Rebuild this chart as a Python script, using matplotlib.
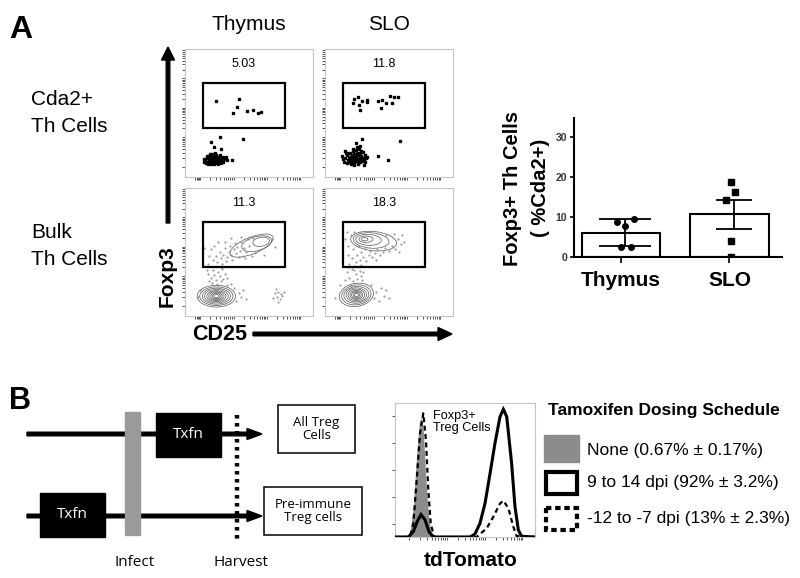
import numpy as np
import matplotlib
matplotlib.use("Agg")
import matplotlib.pyplot as plt
from matplotlib.patches import Rectangle, Ellipse, FancyArrow

plt.rcParams["font.family"] = "Liberation Sans"

# ------------------------------------------------------------
# DATA
# ------------------------------------------------------------

# flow plots (axis units 0-100, log-like display)
gate_pct = ["5.03", "11.8", "11.3", "18.3"]

tl_gated = [(24, 59.6), (42.4, 61), (40.4, 54.4), (37.2, 50), (48.7, 51.8),
            (53.4, 52.6), (57.3, 49.7), (59.4, 50.8)]
tl_outliers = [(27.3, 31), (20.3, 27.6), (22.9, 23.7), (19.5, 18), (28.1, 21.9),
               (45.6, 29.7), (37, 13.3)]
tl_cluster = [(15, 14), (16, 13), (17, 15), (17.5, 12), (18, 16), (18.5, 13.5),
              (19, 11.5), (19, 15), (19.5, 14), (20, 12.5), (20, 16.5), (20.5, 14.5),
              (21, 11), (21, 13), (21.5, 15.5), (22, 12), (22, 17), (22.5, 14),
              (23, 11.5), (23, 15), (23.5, 13), (24, 16), (24, 12.5), (24.5, 14.5),
              (25, 11), (25, 15.5), (25.5, 13.5), (26, 12), (26, 16), (26.5, 14),
              (27, 13), (27.5, 15), (28, 12.5), (28.5, 14.5), (29, 13.5), (29.5, 16),
              (30, 15), (31, 14), (32, 15.5), (16.5, 11), (18, 10.5), (19.5, 17.5),
              (21, 18), (22.5, 10), (24, 17.5), (25.5, 10.5), (27, 17), (28.5, 11),
              (30, 12), (17, 16.5), (20, 13), (23, 12), (26, 13), (29, 12.5),
              (21.5, 13.5), (24.5, 14), (27.5, 13), (19, 15), (22, 16.5), (25, 15),
              (14.5, 12), (32.5, 13), (23.5, 18.5), (20.5, 10.5)]

tr_gated = [(22.7, 60.9), (26, 62.8), (22.1, 57.8), (26.8, 56.3), (29.2, 59.1),
            (33.1, 60.2), (33.1, 58.3), (27.6, 52.3), (41.1, 59.1), (44.3, 60.2),
            (43.5, 54.2), (47.4, 57.8), (50.8, 63), (52.6, 57.6), (54.2, 62.2),
            (56.8, 62.2)]
tr_outliers = [(58.6, 28.4), (29.2, 29.7), (24, 26.6), (41.7, 16.1), (49.5, 13.5),
               (30.7, 9.4), (15.6, 20.6)]
tr_cluster = [(14, 14), (15, 12), (16, 15), (17, 11), (17.5, 17), (18, 13.5),
              (19, 16), (19, 11.5), (19.5, 19), (20, 14), (20.5, 12), (21, 17.5),
              (21, 15), (21.5, 10.5), (22, 13), (22, 20), (22.5, 16), (23, 11.5),
              (23, 18), (23.5, 14.5), (24, 21), (24, 12.5), (24.5, 16.5), (25, 19),
              (25, 14), (25.5, 11), (26, 17), (26, 13), (26.5, 22), (27, 15.5),
              (27, 12), (27.5, 18.5), (28, 14), (28.5, 16.5), (29, 12.5), (29.5, 19.5),
              (30, 15), (30.5, 13.5), (31, 17), (32, 14.5), (33, 16), (18, 18.5),
              (20, 10), (23, 9.5), (26, 10), (28, 20.5), (16.5, 19), (25, 23.5),
              (21.5, 22), (27, 24), (31.5, 12), (13.5, 16.5), (24, 15), (22, 14.5)]

bl_dots = [(22, 44), (24, 47), (25, 42), (27, 50), (28, 45), (30, 48), (31, 53), (33, 46),
           (34, 50), (35, 55), (36, 48), (38, 52), (39, 57), (40, 49), (41, 54), (43, 51),
           (44, 58), (45, 47), (46, 53), (48, 50), (49, 60), (50, 55), (20, 52), (23, 55),
           (26, 58), (29, 41), (32, 43), (37, 44), (42, 46), (52, 47), (55, 49), (62, 48),
           (68, 60), (70, 54), (25, 39), (28, 38), (19, 47), (31, 58), (36, 61), (44, 62),
           (15, 53), (18, 41), (47, 45), (53, 61), (18, 33), (20, 30), (22, 36), (24, 28),
           (26, 34), (27, 31), (29, 37), (21, 26), (25, 25), (30, 29), (23, 32), (19, 27),
           (28, 27), (31, 33), (33, 30), (17, 36), (70, 18), (72, 15), (73, 19), (74, 13),
           (75, 17), (71, 21), (76, 16), (73, 11), (69, 14), (77, 19), (40, 12), (42, 18),
           (44, 15), (38, 22), (36, 25), (45, 20), (48, 13), (10, 15), (12, 20), (33, 24)]
br_dots = [(16, 60), (18, 55), (18, 48), (20, 63), (21, 45), (22, 52), (23, 66), (24, 42),
           (25, 48), (26, 55), (27, 44), (28, 50), (30, 46), (31, 52), (32, 43), (34, 48),
           (35, 51), (37, 46), (39, 49), (41, 52), (43, 48), (45, 50), (47, 53), (50, 51),
           (52, 55), (55, 52), (57, 60), (59, 56), (60, 63), (62, 58), (54, 64), (48, 63),
           (17, 66), (19, 41), (28, 40), (23, 39), (58, 50), (40, 44), (17, 34), (19, 30),
           (21, 37), (22, 27), (24, 33), (25, 29), (26, 38), (27, 35), (28, 31), (20, 24),
           (23, 36), (29, 28), (18, 38), (30, 34), (16, 28), (38, 14), (40, 19), (42, 12),
           (44, 22), (46, 16), (48, 20), (36, 24), (50, 14), (8, 14), (12, 24)]

# contour rings: (cx, cy, w, h, angle)
bl_rings = [(24.5, 15.5, 30, 17, 0), (24.5, 15.5, 26, 14.5, 0), (24.5, 15.5, 22, 12.5, 0),
            (24.5, 15.5, 18.5, 10.5, 0), (24.5, 15.5, 15, 8.5, 0), (24.5, 15.5, 12, 7, 0),
            (24.5, 15.5, 9, 5.5, 0), (24.5, 15.5, 6.5, 4, 0), (24.5, 15.5, 4, 2.5, 0),
            (52, 55, 36, 13, 22), (56, 56.5, 24, 11, 15), (59.5, 58, 13, 7, 10)]
br_rings = [(24.5, 16.5, 27, 18, 10), (24.5, 16.5, 23, 15.5, 8), (24.5, 16.5, 19.5, 13, 5),
            (24.5, 16.5, 16, 11, 0), (24.5, 16.5, 13, 9, 0), (24.5, 16.5, 10, 7, 0),
            (24.5, 16.5, 7.5, 5.5, 0), (24.5, 16.5, 5, 4, 0), (24.5, 16.5, 3, 2.5, 0),
            (38, 58.5, 36, 15, -6), (36, 59, 28, 12, -5), (34, 59.5, 20, 8.5, -3),
            (32, 60, 11, 5, 0), (31, 60, 5, 2.5, 0)]

# bar chart
groups = ["Thymus", "SLO"]
bar_means = [6.1, 10.7]
bar_err = [3.3, 3.6]
thymus_pts = [8.7, 9.4, 7.8, 2.6, 2.6]
thymus_jit = [-0.08, 0.08, 0.0, -0.04, 0.05]
slo_pts = [18.8, 16.25, 14.3, 4.1, 0.1]
slo_jit = [0.0, 0.04, -0.04, 0.0, 0.0]

# tdTomato histograms (x: 0-100 display, y: % of max)
none_x = [0, 8.3, 10.7, 13.1, 15.5, 17.4, 18.6, 20.2, 22.1, 23.8, 25.5, 27.4, 100]
none_y = [0, 0, 2.7, 22.6, 62.4, 86, 89, 80, 42.5, 17.7, 4, 0, 0]
late_x = [0, 9.5, 13.1, 15.95, 18.6, 21.4, 24.3, 27.4, 53.6, 57.1, 60.7, 64.3, 67.9,
          71.4, 75, 77.4, 79.8, 83.3, 85.7, 88.1, 90.5, 100]
late_y = [0, 0, 4, 11.7, 16.7, 12.9, 4, 0, 0, 2.2, 10.2, 25.1, 47.5, 69.9, 89.8, 95.3,
          89.8, 55, 22.6, 5.2, 0.5, 0]
early_x = [0, 10.7, 13.1, 15.5, 17.9, 20.2, 22.1, 23.8, 25.5, 27.9, 58.3, 65.5, 70.2,
           75, 77.4, 81, 84.5, 86.9, 100]
early_y = [0, 0, 10.2, 42.5, 77.4, 92.3, 72.4, 35, 10.2, 0, 0, 6.5, 15, 25, 27.1, 21.4,
           7.7, 0.7, 0]

legend_labels = ["None (0.67% \u00b1 0.17%)", "9 to 14 dpi (92% \u00b1 3.2%)",
                 "-12 to -7 dpi (13% \u00b1 2.3%)"]

# ------------------------------------------------------------
# FIGURE
# ------------------------------------------------------------

W, H = 800, 578
fig = plt.figure(figsize=(8, 5.78), dpi=100)


def add_ax(l, t, r, b):
    return fig.add_axes([l / W, 1 - b / H, (r - l) / W, (b - t) / H])


def log_ticks(starts, width):
    return [s + width * np.log10(k) for s in starts for k in range(1, 10)]


GRAY_FRAME = "#c4c4c4"


def flow_panel(box, pct):
    ax = add_ax(*box)
    ax.set_xlim(0, 100)
    ax.set_ylim(0, 100)
    for s in ax.spines.values():
        s.set_color(GRAY_FRAME)
        s.set_linewidth(0.8)
    ax.set_xticks(log_ticks([12, 38, 64], 26) + [8, 9, 10, 11, 90])
    ax.set_yticks(log_ticks([8, 31, 54, 77], 23))
    ax.set_xticklabels([])
    ax.set_yticklabels([])
    ax.tick_params(length=2, width=0.6, color="#333333", direction="out")
    ax.add_patch(Rectangle((13.8, 38.3), 64.2, 35.1, fill=False, lw=1.6,
                           ec="black", zorder=4))
    ax.text(46, 88, pct, ha="center", va="center", fontsize=9)
    return ax


def pts(ax, data, **kw):
    a = np.array(data)
    ax.plot(a[:, 0], a[:, 1], ls="none", **kw)


ax_tl = flow_panel((185, 49, 313, 177), gate_pct[0])
pts(ax_tl, tl_gated, marker="s", ms=1.6, color="black")
pts(ax_tl, tl_outliers, marker="s", ms=1.6, color="black")
pts(ax_tl, tl_cluster, marker="s", ms=1.7, color="black")

ax_tr = flow_panel((325, 49, 453, 177), gate_pct[1])
pts(ax_tr, tr_gated, marker="s", ms=1.6, color="black")
pts(ax_tr, tr_outliers, marker="s", ms=1.6, color="black")
pts(ax_tr, tr_cluster, marker="s", ms=1.7, color="black")

for box, pct, dots, rings in [((185, 188, 313, 316), gate_pct[2], bl_dots, bl_rings),
                              ((325, 188, 453, 316), gate_pct[3], br_dots, br_rings)]:
    ax = flow_panel(box, pct)
    pts(ax, dots, marker=".", ms=1.0, color="#8a8a8a")
    for cx, cy, w, h, ang in rings:
        ax.add_patch(Ellipse((cx, cy), w, h, angle=ang, fill=False, lw=0.5,
                             ec="#555555"))

# ------------------------------------------------------------
# BAR CHART
# ------------------------------------------------------------

axb = add_ax(574, 118, 782, 257)
xpos = np.arange(len(groups))
axb.bar(xpos, bar_means, width=0.72, color="white", edgecolor="black", lw=1.5,
        zorder=2)
for i, cap in zip(xpos, [19, 13]):
    axb.errorbar(i + 0.04, bar_means[i], yerr=bar_err[i], color="black", lw=1.3,
                 capsize=cap, capthick=1.3, zorder=4)
axb.plot(xpos[0] + 0.04 + np.array(thymus_jit), thymus_pts, "o", color="black",
         ms=4, zorder=5)
axb.plot(xpos[1] + 0.01 + np.array(slo_jit), slo_pts, "s", color="black",
         ms=4, zorder=5)
axb.set_xlim(-0.433, 1.484)
axb.set_ylim(0, 34.8)
axb.set_yticks([0, 10, 20, 30])
axb.set_yticklabels(["0", "10", "20", "30"], fontsize=7.5, fontweight="bold",
                    color="#333333")
axb.set_xticks(xpos)
axb.set_xticklabels(groups, fontsize=15, fontweight="bold")
axb.tick_params(axis="y", length=3, width=1.2, pad=2)
axb.tick_params(axis="x", length=4, width=1.2, pad=6)
for s in ["top", "right"]:
    axb.spines[s].set_visible(False)
for s in ["left", "bottom"]:
    axb.spines[s].set_linewidth(1.5)

# ------------------------------------------------------------
# HISTOGRAM
# ------------------------------------------------------------

axh = add_ax(395, 403, 535, 537)
axh.fill_between(none_x, none_y, color="#8c8c8c", lw=0, zorder=1)
axh.plot(late_x, late_y, color="black", lw=2.2, zorder=3, solid_joinstyle="miter")
axh.plot(early_x, early_y, color="black", lw=1.6, ls=(0, (2.2, 1.6)), zorder=3)
axh.set_xlim(0, 100)
axh.set_ylim(0, 100)
for s in axh.spines.values():
    s.set_color(GRAY_FRAME)
    s.set_linewidth(0.8)
axh.set_xticks(log_ticks([10, 37, 64], 27) + [91])
axh.set_yticks([10, 30, 50, 70, 90])
axh.set_xticklabels([])
axh.set_yticklabels([])
axh.tick_params(length=2, width=0.6, color="#333333", direction="out")
axh.text(27, 95, "Foxp3+\nTreg Cells", ha="left", va="top", fontsize=9.2,
         linespacing=1.05)

# ------------------------------------------------------------
# OVERLAY: labels, arrows, schematic, legend
# ------------------------------------------------------------

ov = fig.add_axes([0, 0, 1, 1], zorder=5)
ov.set_xlim(0, W)
ov.set_ylim(H, 0)
ov.axis("off")

ov.text(9, 38, "A", fontsize=23, fontweight="bold", va="baseline")
ov.text(9, 409, "B", fontsize=22, fontweight="bold", va="baseline")

ov.text(249, 30, "Thymus", fontsize=15, ha="center", va="baseline")
ov.text(389, 30, "SLO", fontsize=15, ha="center", va="baseline")
ov.text(31, 105, "Cda2+", fontsize=15, va="baseline")
ov.text(31, 132, "Th Cells", fontsize=15, va="baseline")
ov.text(31, 238, "Bulk", fontsize=15, va="baseline")
ov.text(31, 265, "Th Cells", fontsize=15, va="baseline")

ov.text(167, 276, "Foxp3", fontsize=15, fontweight="bold", rotation=90,
        ha="center", va="center")
ov.add_patch(FancyArrow(168, 223, 0, -176, width=3.6, head_width=13,
                        head_length=13, length_includes_head=True, color="black"))
ov.text(220, 335, "CD25", fontsize=15.5, fontweight="bold", ha="center",
        va="center")
ov.add_patch(FancyArrow(253, 334, 199, 0, width=3.6, head_width=13,
                        head_length=14, length_includes_head=True, color="black"))

ov.text(513, 188, "Foxp3+ Th Cells", fontsize=14.5, fontweight="bold",
        rotation=90, ha="center", va="center")
ov.text(540, 188, "( %Cda2+)", fontsize=14.5, fontweight="bold",
        rotation=90, ha="center", va="center")

# dosing schematic
SFONT = "Open Sans"
for y in [434, 516]:
    ov.add_patch(FancyArrow(27, y, 235, 0, width=3.6, head_width=11,
                            head_length=15, length_includes_head=True,
                            color="black", zorder=1))
ov.add_patch(Rectangle((125, 412), 15, 123, color="#9a9a9a", zorder=2))
for (x0, y0) in [(156, 413), (40, 493)]:
    ov.add_patch(Rectangle((x0, y0), 65, 44, color="black", zorder=2))
    ov.text(x0 + 32.5, y0 + 22, "Txfn", color="white", fontsize=11,
            family=SFONT, ha="center", va="center", zorder=3)
ov.plot([237, 237], [415, 539], color="black", lw=3.2, ls=(0, (0.8, 1.0)),
        zorder=3)
ov.add_patch(Rectangle((278, 405), 77, 48, fill=False, ec="black", lw=1.1))
ov.text(316.5, 429, "All Treg\nCells", fontsize=9.5, family=SFONT, ha="center",
        va="center", linespacing=1.0)
ov.add_patch(Rectangle((264, 487), 98, 48, fill=False, ec="black", lw=1.1))
ov.text(313, 511, "Pre-immune\nTreg cells", fontsize=9.5, family=SFONT,
        ha="center", va="center", linespacing=1.0)
ov.text(135, 563, "Infect", fontsize=11, family=SFONT, ha="center", va="center")
ov.text(241, 563, "Harvest", fontsize=11, family=SFONT, ha="center", va="center")

ov.text(471, 560, "tdTomato", fontsize=15, fontweight="bold", ha="center",
        va="center")

# legend
ov.text(548, 411, "Tamoxifen Dosing Schedule", fontsize=12.5, fontweight="bold",
        va="center")
ov.add_patch(Rectangle((544, 435), 35, 27, color="#8c8c8c"))
ov.add_patch(Rectangle((546, 471.5), 31, 22.5, fill=False, ec="black", lw=3.0,
                       joinstyle="miter"))
ov.add_patch(Rectangle((546, 507.5), 31, 22.5, fill=False, ec="black", lw=3.0,
                       ls=(0, (1.3, 0.9))))
for y, lab in zip([450, 483, 519], legend_labels):
    ov.text(587, y, lab, fontsize=12.5, va="center")

fig.savefig("out.png", dpi=100)
